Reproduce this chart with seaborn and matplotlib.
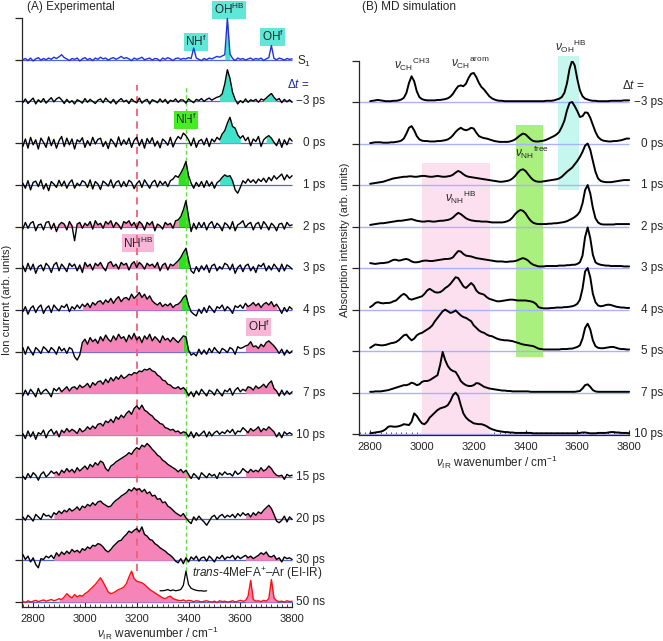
import numpy as np
import pandas as pd
import matplotlib.pyplot as plt
from matplotlib.ticker import MultipleLocator
import seaborn as sns

sns.set_style("ticks")
plt.rcParams['font.family'] = ['Liberation Sans', 'DejaVu Sans']
plt.rcParams['mathtext.fontset'] = 'custom'
plt.rcParams['mathtext.rm'] = 'Liberation Sans'
plt.rcParams['mathtext.it'] = 'Liberation Sans:italic'
plt.rcParams['mathtext.bf'] = 'Liberation Sans:bold'

# ---- (A) experimental spectra, 2760-3800 cm-1 every 10 cm-1, in % of trace spacing
exp_wn = np.arange(2760, 3801, 10)
exp_labels = ['S1', '−3 ps', '0 ps', '1 ps', '2 ps', '3 ps', '4 ps', '5 ps',
              '7 ps', '10 ps', '15 ps', '20 ps', '30 ps', '50 ns']
s1 = [0, 3, -2, 4, -3, 2, 5, -1, 3, 0,
      4, 1, 6, 3, 7, 12, 5, 2, -2, 3,
      1, 4, -3, 2, 5, 0, 3, -2, 4, 1,
      6, 2, 4, -1, 3, 5, 1, 4, 8, 3,
      5, 2, -2, 4, 1, 3, 6, 0, 2, 4,
      -1, 3, 2, -3, 4, 1, 5, 2, -2, 3,
      4, 1, 3, 2, 5, 3, 28, 4, 1, -2,
      3, 0, 4, 2, 5, 8, 6, 9, 12, 100,
      14, 3, -2, 4, 1, 3, -1, 2, 4, 0,
      3, 1, 4, -2, 2, 5, 34, 3, 0, 4,
      2, -1, 3, 1, 2]
exp_m3 = [-3, 6, -5, 2, 8, -6, 4, -2, 7, -4,
          3, 9, -1, 6, 10, 4, -5, 5, -3, 2,
          -6, 4, 1, -4, 7, -2, 5, 0, -5, 3,
          6, -3, 8, 1, -4, 5, -6, 2, 7, -1,
          3, -5, 6, 0, -3, 8, -4, 2, 5, -6,
          4, 1, -3, 6, -2, 5, -5, 3, 0, 6,
          -2, 4, 3, -4, 6, 1, -3, 5, 2, 7,
          0, 5, 8, 3, 7, 10, 12, 18, 42, 76,
          55, 22, 5, -6, 2, -3, 6, -2, 4, 1,
          5, -2, 6, 3, 8, 14, 19, 10, 3, 7,
          -3, 5, -1, 4, -2]
exp_0 = [-8, 10, -12, 14, -4, 8, -14, 12, 2, -10,
         15, -6, 9, -12, 6, 16, -8, 12, -4, 10,
         -14, 8, 3, 13, -10, 6, -6, 14, -2, 9,
         12, -8, 4, -13, 10, 2, -9, 15, -5, 8,
         -3, 12, -10, 7, 14, -6, 9, -12, 11, 0,
         13, -7, 5, -11, 10, 4, -5, 14, -9, 6,
         16, 10, 24, 18, 8, -6, 12, -10, 5, 9,
         -4, 12, -8, 10, 3, 14, 8, 22, 30, 48,
         62, 40, 36, 20, 12, 18, 6, 14, -6, 10,
         4, 16, -8, 8, 14, 18, 12, 2, -6, 10,
         -10, 8, -4, 12, 5]
exp_1 = [4, -8, 10, -12, 6, 9, -4, 12, -10, 3,
         -14, 8, 2, -6, 11, -3, 9, -8, 5, 12,
         -8, 4, -2, 10, 6, -6, 12, -10, 8, 2,
         -11, 9, 4, -3, 12, -7, 6, 10, -5, 8,
         -4, 11, 6, -9, 3, 10, -6, 12, 2, -8,
         6, 11, -5, 9, 0, 8, -4, 10, 14, 22,
         18, 28, 40, 56, 22, 4, -8, 6, -4, 8,
         -6, 10, -3, 7, -8, 5, 10, 18, 24, 20,
         22, 10, -12, -20, -6, 10, 4, 14, 6, 12,
         4, 14, 8, 16, 6, 18, 10, 22, 14, 20,
         26, 12, 24, 16, 22]
exp_2 = [-6, 10, -4, 8, 12, -10, 4, 6, -8, 10,
         12, -6, 8, -12, 4, 10, 6, -8, 12, 2,
         -34, 6, 10, -4, 8, 2, 12, -6, 14, 4,
         8, -4, 12, 6, 14, -2, 10, 4, -6, 12,
         8, 14, 2, 10, -4, 12, 6, -8, 10, 4,
         12, -10, 6, 2, -6, 10, 4, 8, -4, 14,
         16, 24, 40, 62, 24, -12, 8, -6, 10, -2,
         10, -8, 6, 12, -4, 8, 2, -10, 9, 4,
         -6, 12, -10, 4, 8, 14, -2, 6, 10, -8,
         6, 10, -6, 12, 4, -8, 8, 2, -10, 6,
         8, -6, 10, 2, 4]
exp_3 = [6, -8, 12, -4, 10, -12, 4, 8, -6, 12,
         5, -10, 8, 14, -6, 10, 2, -8, 12, 4,
         10, -6, 8, -10, 14, 4, 10, -4, 12, 6,
         14, 2, -6, 12, 16, 4, 10, -2, 14, 8,
         12, -4, 10, 16, 2, 14, 8, -2, 12, 6,
         10, 2, 14, -6, 8, 12, -4, 10, 6, 12,
         18, 26, 38, 48, 20, -6, -12, 4, -8, 6,
         -4, 8, -10, 6, 10, -6, 4, -2, 12, 8,
         -4, 10, -12, 2, 8, -8, 6, 10, -6, 4,
         -10, 8, 4, 12, -6, 6, -4, 10, 2, -8,
         10, -6, 8, 4, -2]
exp_4 = [-4, 8, -10, 4, 10, -6, 6, 12, -8, 4,
         10, -6, 12, 4, -2, 10, 6, 14, -4, 8,
         2, 12, 4, 14, 8, 16, 6, 18, 12, 20,
         22, 14, 24, 18, 28, 16, 26, 32, 20, 28,
         30, 24, 38, 28, 34, 42, 30, 38, 26, 34,
         22, 16, 12, 18, 8, 14, 10, 16, 6, 12,
         14, 20, 30, 36, 12, -4, -10, -14, 2, -8,
         6, -6, 10, 2, -6, 8, 4, 12, -2, 8,
         2, -8, 10, 6, 12, 4, 16, 8, 12, 18,
         10, 16, 6, 14, 18, 12, 20, 8, 14, 4,
         -8, 6, -4, 8, 2]
exp_5 = [10, -6, 12, 2, -8, 10, 4, -4, 12, 6,
         -2, 10, 4, -6, 12, 2, 8, -4, 10, 6,
         -12, -20, -8, 22, 30, 18, 34, 24, 30, 20,
         36, 26, 40, 30, 24, 38, 28, 42, 32, 36,
         24, 40, 30, 44, 28, 36, 22, 38, 30, 42,
         26, 36, 30, 22, 38, 28, 32, 24, 34, 28,
         22, 30, 38, 36, 4, -8, -4, -10, 6, -6,
         4, -6, 8, -2, 10, 2, -4, 8, 4, -2,
         10, 6, -6, 12, 8, 10, 14, 16, 24, 12,
         14, 8, 18, 12, 22, 26, 20, 14, 6, -4,
         6, -8, 4, -4, 2]
exp_7 = [-6, 8, -4, 10, 2, -8, 12, -2, 6, 10,
         2, -8, 12, 6, 14, 4, 10, 16, 6, 14,
         16, 10, 20, 14, 18, 24, 14, 26, 20, 28,
         30, 22, 34, 26, 38, 30, 40, 34, 44, 36,
         40, 46, 44, 50, 48, 54, 52, 58, 56, 60,
         54, 52, 44, 40, 32, 30, 22, 20, 14, 12,
         16, 10, 14, 8, -6, 4, -8, 6, -4, 10,
         2, -6, 8, 4, -4, 10, 2, -6, 8, 4,
         12, -4, 8, 14, 4, 10, 6, 16, 14, 8,
         18, 12, 16, 22, 14, 24, 30, 12, 6, -6,
         8, -4, 6, -2, 4]
exp_10 = [4, -8, 10, -4, 8, -10, 6, 2, 12, -6,
          8, 14, 2, 10, -4, 12, 6, 16, 8, 14,
          10, 4, 16, 8, 12, 20, 14, 22, 16, 26,
          28, 22, 34, 30, 38, 30, 44, 38, 48, 42,
          52, 58, 50, 64, 70, 62, 72, 60, 56, 50,
          46, 38, 34, 28, 26, 18, 16, 12, 14, 8,
          10, 4, 8, 6, -4, 8, -6, 6, -2, 4,
          10, -4, 8, -2, 6, 10, 2, 8, 4, 12,
          6, 14, 2, 10, 8, 18, 12, 6, 16, 10,
          14, 20, 8, 16, 12, 20, 14, 8, -4, 6,
          -6, 8, 2, 6, 2]
exp_15 = [2, -6, 8, -2, 10, 4, -8, 6, 12, 0,
          6, 14, 8, 12, 4, 16, 10, 20, 12, 18,
          10, 22, 14, 20, 26, 18, 30, 24, 34, 28,
          38, 34, 20, 14, 26, 30, 36, 40, 44, 48,
          52, 58, 54, 64, 70, 66, 76, 72, 80, 74,
          66, 60, 52, 48, 40, 36, 30, 26, 22, 18,
          12, 18, 10, 16, 6, -4, 8, 2, -6, 10,
          4, -2, 8, 2, 6, -4, 10, 4, 12, 6,
          8, 2, 14, 6, 10, 20, 14, 10, 18, 12,
          16, 12, 22, 14, 18, 26, 20, 10, 4, 2,
          4, -6, 6, 2, 4]
exp_20 = [4, -4, 8, 2, -6, 10, 4, -2, 12, 6,
          8, 2, 14, 10, 18, 12, 20, 16, 24, 18,
          22, 28, 20, 30, 26, 34, 30, 38, 32, 40,
          42, 36, 32, 28, 30, 38, 44, 48, 54, 58,
          62, 70, 66, 74, 68, 72, 64, 70, 60, 64,
          54, 56, 46, 48, 38, 40, 30, 26, 20, 14,
          10, 6, 12, 2, -6, -12, 4, -4, 6, -2,
          -8, -16, -6, 4, 8, -2, 6, 10, 2, 8,
          4, 10, 2, 12, 6, 14, 8, 12, 4, 14,
          8, 16, 12, 20, 26, 32, 24, 10, -6, -10,
          -4, 6, -8, 4, -2]
exp_30 = [14, 2, 10, -4, 6, -10, -18, 4, 2, 10,
          6, 12, 4, 18, 10, 20, 14, 22, 16, 26,
          20, 24, 18, 28, 24, 32, 28, 36, 34, 40,
          38, 32, 24, 20, 26, 34, 40, 46, 48, 56,
          62, 70, 66, 72, 76, 68, 80, 62, 58, 50,
          48, 40, 36, 30, 26, 22, 16, 12, 6, -2,
          -6, 4, -8, 6, -4, 8, 2, 10, -2, 6,
          8, -2, 10, 4, -4, 8, 4, 12, 2, 8,
          6, 12, 2, 10, 4, 8, 12, 6, 10, 4,
          8, 12, 18, 14, 20, 10, 8, 12, 2, 6,
          -4, 8, 4, 6, 2]
exp_50ns = [2, -1, 3, 0, 2, 4, 1, 3, 5, 2,
            4, 6, 3, 5, 8, 6, 12, 20, 14, 10,
            18, 12, 16, 14, 20, 24, 30, 36, 42, 50,
            58, 48, 36, 24, 20, 22, 26, 30, 32, 36,
            44, 60, 74, 56, 50, 48, 46, 42, 36, 30,
            26, 22, 18, 14, 10, 8, 12, 14, 8, 6,
            4, 3, 5, 2, 4, 3, 1, 3, 2, 0,
            2, 3, 1, 0, 2, -1, 3, 1, 2, 0,
            1, 3, 0, 2, 4, 2, 3, 14, 52, 6,
            2, 3, 1, 4, 2, 8, 54, 10, 3, 1,
            2, 0, 3, 1, 2]
exp_traces = [s1, exp_m3, exp_0, exp_1, exp_2, exp_3, exp_4, exp_5, exp_7,
              exp_10, exp_15, exp_20, exp_30, exp_50ns]

# EI-IR spectrum of the cation (small inset trace above the 50 ns one)
ei_wn = np.arange(3290, 3471, 10)
ei_ir = [27, 27, 28, 30, 27, 29, 27, 28, 30, 40, 74, 42, 33, 30, 28, 27, 27, 26, 27]

# ---- (B) MD spectra, 2800-3800 every 10 cm-1, in % of trace spacing
md_wn = np.arange(2800, 3801, 10)
md_labels = ['−3 ps', '0 ps', '1 ps', '2 ps', '3 ps', '4 ps', '5 ps', '7 ps', '10 ps']
md_m3 = [2, 3, 4, 5, 4, 3, 2, 2, 2, 3, 3, 4, 6, 10, 22, 46, 62, 50, 26, 12,
         7, 5, 4, 4, 4, 4, 5, 5, 6, 7, 9, 13, 20, 30, 38, 40, 38, 44, 58, 68,
         70, 60, 46, 36, 30, 22, 14, 9, 6, 4, 3, 3, 2, 2, 2, 2, 2, 2, 2, 2,
         2, 2, 2, 2, 2, 2, 2, 2, 3, 3, 3, 4, 6, 8, 12, 22, 45, 80, 100, 88,
         55, 28, 14, 8, 6, 4, 3, 3, 2, 2, 2, 2, 2, 3, 3, 3, 3, 3, 4, 4, 4]
md_0 = [1, 2, 3, 3, 3, 2, 2, 2, 3, 3, 4, 5, 7, 12, 24, 38, 42, 32, 18, 10,
        7, 6, 6, 5, 5, 5, 6, 6, 7, 8, 10, 14, 20, 28, 34, 38, 34, 32, 34, 38,
        36, 26, 18, 15, 13, 12, 10, 8, 6, 5, 4, 4, 4, 4, 5, 7, 10, 15, 20, 24,
        22, 16, 10, 6, 5, 5, 6, 7, 9, 12, 15, 18, 22, 28, 40, 55, 80, 98, 100, 90,
        78, 64, 66, 75, 74, 62, 45, 28, 16, 10, 7, 6, 5, 5, 6, 6, 7, 8, 10, 12, 12]
md_1 = [3, 4, 5, 6, 7, 8, 10, 12, 14, 16, 17, 18, 19, 20, 20, 21, 21, 20, 20, 21,
        22, 22, 21, 20, 20, 21, 22, 21, 20, 20, 21, 22, 25, 30, 34, 31, 26, 22, 20, 19,
        18, 17, 16, 15, 14, 13, 12, 11, 10, 9, 8, 8, 9, 10, 12, 16, 22, 30, 36, 38,
        34, 26, 18, 12, 9, 8, 8, 9, 10, 11, 12, 13, 14, 16, 20, 26, 32, 37, 42, 50,
        58, 68, 80, 95, 100, 85, 58, 32, 16, 10, 8, 7, 7, 7, 8, 9, 10, 11, 12, 12, 12]
md_2 = [4, 5, 6, 7, 8, 8, 9, 10, 11, 12, 13, 14, 14, 15, 16, 17, 18, 16, 14, 13,
        12, 12, 13, 13, 12, 12, 13, 14, 14, 15, 16, 18, 22, 28, 33, 30, 25, 20, 17, 15,
        14, 13, 13, 12, 12, 12, 11, 10, 10, 10, 10, 10, 11, 13, 16, 22, 30, 36, 40, 38,
        32, 22, 14, 9, 7, 6, 6, 6, 6, 7, 7, 8, 8, 9, 10, 11, 13, 16, 19, 23,
        28, 36, 56, 88, 100, 80, 45, 20, 10, 6, 5, 5, 5, 5, 5, 6, 6, 6, 6, 6, 6]
md_3 = [12, 11, 10, 11, 12, 12, 13, 14, 17, 20, 20, 18, 19, 21, 22, 20, 16, 14, 14, 15,
        17, 18, 18, 17, 17, 18, 19, 20, 21, 22, 22, 23, 26, 34, 41, 40, 34, 30, 29, 28,
        26, 24, 23, 22, 21, 20, 19, 18, 17, 16, 16, 16, 15, 15, 16, 16, 17, 19, 22, 24,
        22, 18, 12, 8, 6, 4, 4, 4, 5, 5, 5, 5, 5, 6, 6, 6, 7, 7, 8, 8,
        10, 14, 30, 75, 98, 72, 32, 14, 10, 8, 7, 6, 6, 5, 5, 5, 5, 5, 4, 4, 4]
md_4 = [6, 10, 16, 18, 16, 15, 16, 16, 17, 20, 22, 28, 34, 38, 34, 26, 24, 26, 28, 30,
        32, 38, 46, 50, 46, 42, 41, 42, 46, 52, 56, 62, 70, 78, 76, 66, 56, 52, 58, 64,
        58, 46, 40, 38, 36, 30, 26, 24, 22, 20, 20, 21, 22, 23, 24, 24, 23, 22, 22, 22,
        22, 21, 20, 18, 14, 6, 4, 3, 3, 3, 4, 4, 5, 5, 5, 6, 6, 7, 8, 10,
        14, 24, 50, 92, 100, 78, 38, 18, 10, 8, 9, 11, 12, 11, 9, 7, 6, 5, 5, 4, 4]
md_5 = [8, 12, 16, 15, 14, 14, 15, 17, 19, 20, 22, 26, 32, 38, 40, 32, 26, 30, 38, 42,
        44, 48, 52, 56, 62, 72, 80, 88, 96, 100, 96, 92, 94, 98, 92, 86, 82, 80, 76, 72,
        62, 56, 50, 46, 44, 40, 37, 36, 33, 30, 28, 27, 26, 26, 25, 24, 22, 20, 18, 16,
        15, 14, 13, 12, 9, 6, 5, 4, 4, 4, 4, 4, 4, 4, 5, 5, 5, 6, 6, 8,
        10, 14, 30, 56, 66, 52, 26, 12, 8, 7, 7, 8, 9, 10, 10, 8, 6, 5, 5, 4, 4]
md_7 = [2, 2, 3, 3, 3, 4, 5, 6, 8, 10, 12, 14, 16, 18, 18, 20, 24, 22, 18, 20,
        26, 28, 28, 30, 34, 38, 42, 66, 98, 78, 64, 56, 52, 50, 40, 28, 22, 18, 16, 16,
        18, 23, 22, 18, 14, 12, 10, 9, 8, 7, 6, 5, 5, 4, 4, 3, 3, 3, 3, 3,
        3, 3, 2, 2, 2, 2, 2, 2, 2, 2, 2, 2, 2, 2, 2, 2, 2, 2, 2, 2,
        3, 4, 10, 18, 20, 14, 6, 3, 2, 2, 2, 2, 2, 2, 2, 2, 2, 2, 2, 2, 2]
md_10 = [2, 3, 4, 5, 6, 8, 12, 18, 19, 18, 18, 19, 21, 24, 23, 22, 30, 50, 44, 34,
         26, 24, 30, 40, 46, 52, 58, 62, 64, 66, 70, 80, 94, 100, 92, 70, 50, 40, 34, 30,
         26, 25, 24, 24, 22, 19, 15, 12, 10, 8, 7, 6, 5, 5, 4, 4, 3, 3, 3, 3,
         3, 3, 3, 2, 2, 2, 2, 2, 2, 2, 2, 2, 2, 2, 2, 2, 2, 2, 2, 2,
         2, 3, 4, 4, 3, 2, 2, 2, 3, 3, 3, 3, 4, 5, 5, 4, 4, 3, 3, 3, 2]
md_traces = [md_m3, md_0, md_1, md_2, md_3, md_4, md_5, md_7, md_10]

CYAN, GREEN, PINK = '#3fe3cc', '#2fe020', '#f585b8'
# shaded bands under each experimental trace: (from, to, colour)
exp_fills = {
    'S1': [(3540, 3560, CYAN)],
    '−3 ps': [(3520, 3580, CYAN), (3690, 3740, CYAN)],
    '0 ps': [(3520, 3600, CYAN), (3700, 3740, CYAN)],
    '1 ps': [(3360, 3400, GREEN), (3520, 3570, CYAN)],
    '2 ps': [(2880, 3360, PINK), (3360, 3400, GREEN)],
    '3 ps': [(2980, 3360, PINK), (3360, 3400, GREEN)],
    '4 ps': [(2990, 3370, PINK), (3370, 3400, GREEN), (3620, 3740, PINK)],
    '5 ps': [(2980, 3380, PINK), (3380, 3410, GREEN), (3620, 3740, PINK)],
    '7 ps': [(2900, 3380, PINK), (3380, 3400, GREEN), (3620, 3740, PINK)],
    '10 ps': [(2880, 3380, PINK), (3380, 3400, GREEN), (3620, 3740, PINK)],
    '15 ps': [(2880, 3400, PINK), (3620, 3760, PINK)],
    '20 ps': [(2880, 3400, PINK), (3620, 3760, PINK)],
    '30 ps': [(2880, 3400, PINK), (3620, 3760, PINK)],
    '50 ns': [(2900, 3360, PINK), (3620, 3740, PINK)],
}


def draw_trace(ax, wn, vals, offset, color, lw):
    d = pd.DataFrame({'wn': wn, 'y': offset + np.asarray(vals) / 100})
    sns.lineplot(data=d, x='wn', y='y', ax=ax, color=color, lw=lw,
                 estimator=None, sort=False, zorder=5)


fig = plt.figure(figsize=(6.63, 6.41), dpi=100)
axA = fig.add_axes([0.0332, 0.0530, 0.4113, 0.9189])
axB = fig.add_axes([0.5415, 0.3214, 0.4113, 0.5842])

# ---------------- panel A
n_exp = len(exp_labels)
exp_off = [n_exp - 1 - i for i in range(n_exp)]
axA.hlines(exp_off, 2757, 3800, color='#5566dd', lw=0.9, zorder=2)
for lab, vals, off in zip(exp_labels, exp_traces, exp_off):
    y = np.asarray(vals) / 100
    for lo, hi, col in exp_fills[lab]:
        mask = (exp_wn >= lo) & (exp_wn <= hi)
        axA.fill_between(exp_wn, off, off + np.maximum(y, 0), where=mask,
                         color=col, lw=0, zorder=3)
axA.vlines(3200, 0.75, 12.4, color='#f0607a', lw=1.3, ls=(0, (4, 3)), zorder=4)
axA.vlines(3392, 0.75, 12.35, color='#66dd44', lw=1.0, ls=(0, (3, 2)), zorder=4)
for lab, vals, off in zip(exp_labels, exp_traces, exp_off):
    col = '#2233dd' if lab == 'S1' else ('#ff1010' if lab == '50 ns' else 'black')
    draw_trace(axA, exp_wn, vals, off, col, 1.0)
draw_trace(axA, ei_wn, ei_ir, 0, 'black', 0.9)

for lab, off in zip(exp_labels, exp_off):
    if lab == 'S1':
        axA.text(3819, off - 0.05, 'S$_1$', ha='left', va='center', fontsize=8.5)
    else:
        axA.text(3927, off, lab, ha='right', va='center', fontsize=8.5)
axA.text(3780, 12.4, r'$\Delta t$ =', ha='left', va='center', fontsize=8.5, color='#1a2a9a')

box = dict(boxstyle='square,pad=0.12', lw=0)
axA.text(3556, 14.2, r'OH$^{\mathrm{HB}}$', ha='center', va='center', fontsize=8.5,
         bbox={**box, 'fc': '#5fe8d8'})
axA.text(3429, 13.43, r'NH$^{\mathrm{f}}$', ha='center', va='center', fontsize=8.5,
         bbox={**box, 'fc': '#5fe8d8'})
axA.text(3726, 13.55, r'OH$^{\mathrm{f}}$', ha='center', va='center', fontsize=8.5,
         bbox={**box, 'fc': '#5fe8d8'})
axA.text(3390, 11.56, r'NH$^{\mathrm{f}}$', ha='center', va='center', fontsize=8.5,
         bbox={**box, 'fc': '#44ee22'})
axA.text(3205, 8.6, r'NH$^{\mathrm{HB}}$', ha='center', va='center', fontsize=8.5,
         bbox={**box, 'fc': '#f9b6d6'})
axA.text(3672, 6.6, r'OH$^{\mathrm{f}}$', ha='center', va='center', fontsize=8.5,
         bbox={**box, 'fc': '#f9b6d6'})
axA.text(3413, 0.68, r'$trans$-4MeFA$^{+}$–Ar (EI-IR)', ha='left', va='center', fontsize=8.5)

axA.set_xlim(2757, 3810)
axA.set_ylim(-0.12, 14.0)
axA.set_yticks(range(15))
axA.set_yticklabels([])

# ---------------- panel B
n_md = len(md_labels)
md_off = [n_md - 1 - i for i in range(n_md)]
axB.fill_between([3000, 3262], 0, 6.54, color='#fde0f0', lw=0, zorder=1)
axB.fill_between([3365, 3466], 1.85, 7.45, color='#aaf07e', lw=0, zorder=1)
cy = axB.fill_between([3525, 3606], 5.89, 9.11, color='#c6f7ef', lw=0, zorder=1)
cy.set_clip_on(False)
axB.hlines(md_off, 2757, 3800, color='#aab2ff', lw=1.0, zorder=2)
for lab, vals, off in zip(md_labels, md_traces, md_off):
    draw_trace(axB, md_wn, vals, off, 'black', 1.4)
    axB.text(3931, off, lab, ha='right', va='center', fontsize=8.5)
axB.text(3772, 8.41, r'$\Delta t$ =', ha='left', va='center', fontsize=8.5)

axB.text(2962, 8.9, r'$\nu_{\mathrm{CH}}{}^{\mathrm{CH3}}$', ha='center', va='center', fontsize=8.5)
axB.text(3187, 8.94, r'$\nu_{\mathrm{CH}}{}^{\mathrm{arom}}$', ha='center', va='center', fontsize=8.5)
axB.text(3575, 9.33, r'$\nu_{\mathrm{OH}}{}^{\mathrm{HB}}$', ha='center', va='center', fontsize=8.5)
axB.text(3424, 6.78, r'$\nu_{\mathrm{NH}}{}^{\mathrm{free}}$', ha='center', va='center', fontsize=8.5)
axB.text(3148, 5.7, r'$\nu_{\mathrm{NH}}{}^{\mathrm{HB}}$', ha='center', va='center', fontsize=8.5)

axB.set_xlim(2757, 3810)
axB.set_ylim(-0.02, 9.0)
axB.set_yticks(range(10))
axB.set_yticklabels([])

for ax in (axA, axB):
    ax.set(xlabel='', ylabel='')
    sns.despine(ax=ax)
    ax.spines['left'].set_linewidth(0.9)
    ax.spines['bottom'].set_linewidth(0.9)
    ax.spines['bottom'].set_bounds(2757, 3800)
    ax.set_xticks(range(2800, 3801, 200))
    ax.xaxis.set_minor_locator(MultipleLocator(20))
    ax.tick_params(axis='x', which='both', direction='in', labelsize=8, pad=5)
    ax.tick_params(axis='x', which='major', length=3.5, width=0.8)
    ax.tick_params(axis='x', which='minor', length=2.5, width=0.6)
    ax.tick_params(axis='y', direction='out', length=5, width=0.9)

fig.text(27 / 663, 1 - 7 / 641, '(A) Experimental', ha='left', va='center', fontsize=8.5)
fig.text(362 / 663, 1 - 7 / 641, '(B) MD simulation', ha='left', va='center', fontsize=8.5)
fig.text(7 / 663, 1 - 300 / 641, 'Ion current (arb. units)', rotation=90,
         ha='center', va='center', fontsize=8)
fig.text(345 / 663, 1 - 240 / 641, 'Absorption intensity (arb. units)', rotation=90,
         ha='center', va='center', fontsize=8)
fig.text(158 / 663, 1 - 633 / 641, r'$\nu_{\mathrm{IR}}$ wavenumber / cm$^{-1}$',
         ha='center', va='center', fontsize=8.5)
fig.text(497 / 663, 1 - 462 / 641, r'$\nu_{\mathrm{IR}}$ wavenumber / cm$^{-1}$',
         ha='center', va='center', fontsize=8.5)

fig.savefig('out.png', dpi=100)
